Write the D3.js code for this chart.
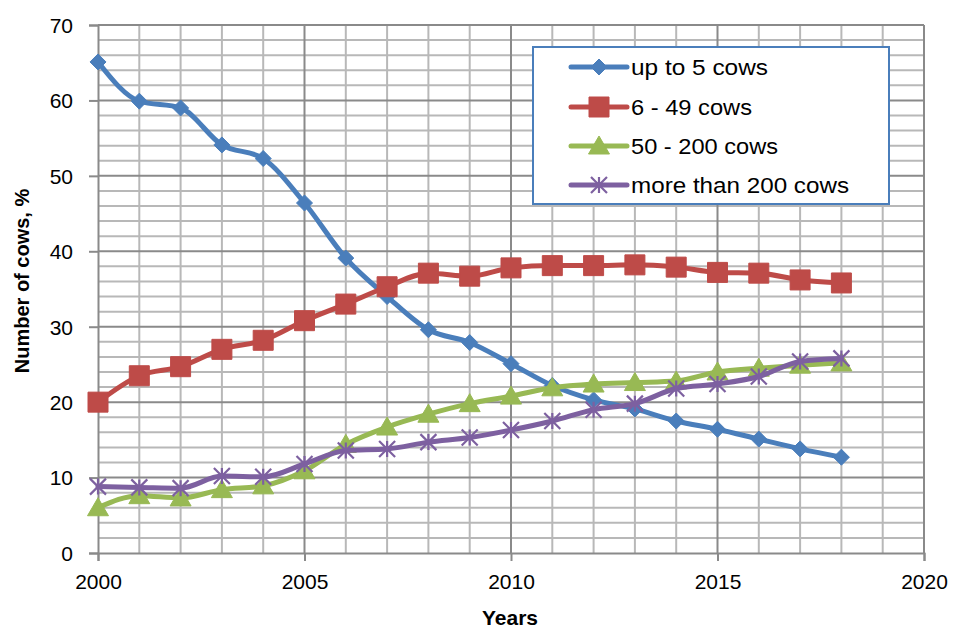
<!DOCTYPE html>
<html>
<head>
<meta charset="utf-8">
<script src="https://cdn.jsdelivr.net/npm/d3@7/dist/d3.min.js"></script>
<style>
  html, body { margin: 0; padding: 0; background: #fff; }
  svg { display: block; font-family: "Liberation Sans", Arial, sans-serif; }
</style>
</head>
<body>
<svg id="chart" width="953" height="633"></svg>
<script>
// Share of cows by herd size, 2000–2018
const years = [2000, 2001, 2002, 2003, 2004, 2005, 2006, 2007, 2008, 2009,
               2010, 2011, 2012, 2013, 2014, 2015, 2016, 2017, 2018];

const upTo5 = [65.1, 59.9, 59.0, 54.1, 52.3, 46.4, 39.1, 34.0, 29.6, 27.9,
               25.1, 22.2, 20.3, 19.1, 17.5, 16.4, 15.1, 13.8, 12.7];
const from6to49 = [20.0, 23.5, 24.7, 27.0, 28.2, 30.8, 33.0, 35.3, 37.1, 36.7,
                   37.8, 38.1, 38.1, 38.2, 37.9, 37.2, 37.1, 36.2, 35.8];
const from50to200 = [6.0, 7.6, 7.3, 8.4, 8.9, 10.9, 14.4, 16.7, 18.4, 19.8,
                     20.8, 21.9, 22.4, 22.6, 22.8, 24.0, 24.5, 24.9, 25.2];
const over200 = [8.8, 8.7, 8.6, 10.2, 10.1, 11.8, 13.6, 13.8, 14.7, 15.3,
                 16.3, 17.5, 19.0, 19.8, 21.8, 22.4, 23.4, 25.4, 25.8];

const seriesNames = ["up to 5 cows", "6 - 49 cows", "50 - 200 cows", "more than 200 cows"];
const seriesColors = ["#4a7ebb", "#be4b48", "#98b954", "#7d60a0"];
const seriesMarkers = ["diamond", "square", "triangle", "star"];

const xTicks = [2000, 2005, 2010, 2015, 2020];
const yTicks = [0, 10, 20, 30, 40, 50, 60, 70];

const series = [upTo5, from6to49, from50to200, over200].map((vals, i) => ({
  name: seriesNames[i], color: seriesColors[i], marker: seriesMarkers[i],
  points: years.map((yr, j) => ({ year: yr, value: vals[j] }))
}));

const svg = d3.select("#chart");
const plot = { left: 98, right: 924, top: 25, bottom: 553 };

const x = d3.scaleLinear().domain([2000, 2020]).range([plot.left, plot.right]);
const y = d3.scaleLinear().domain([0, 70]).range([plot.bottom, plot.top]);

// Grid: minor lines every year / every 2 %, major lines every 5 years / 10 %
const grid = svg.append("g");
const minorX = d3.range(2001, 2020).filter(v => v % 5 !== 0);
const minorY = d3.range(2, 70, 2).filter(v => v % 10 !== 0);
grid.selectAll(".mx").data(minorX).join("line")
  .attr("x1", d => x(d)).attr("x2", d => x(d))
  .attr("y1", plot.top).attr("y2", plot.bottom)
  .attr("stroke", "#b8b8b8").attr("stroke-width", 2);
grid.selectAll(".my").data(minorY).join("line")
  .attr("x1", plot.left).attr("x2", plot.right)
  .attr("y1", d => y(d)).attr("y2", d => y(d))
  .attr("stroke", "#b8b8b8").attr("stroke-width", 2);
grid.selectAll(".Mx").data(xTicks.slice(1)).join("line")
  .attr("x1", d => x(d)).attr("x2", d => x(d))
  .attr("y1", plot.top).attr("y2", plot.bottom)
  .attr("stroke", "#8a8a8a").attr("stroke-width", 2);
grid.selectAll(".My").data(yTicks.slice(1)).join("line")
  .attr("x1", plot.left).attr("x2", plot.right)
  .attr("y1", d => y(d)).attr("y2", d => y(d))
  .attr("stroke", "#8a8a8a").attr("stroke-width", 2);

// Axes
const xAxis = d3.axisBottom(x).tickValues(xTicks).tickFormat(d3.format("d"))
  .tickSize(8).tickPadding(13);
const yAxis = d3.axisLeft(y).tickValues(yTicks).tickSize(9).tickPadding(16);

const gx = svg.append("g").attr("transform", `translate(0,${plot.bottom})`).call(xAxis);
const gy = svg.append("g").attr("transform", `translate(${plot.left},0)`).call(yAxis);
[gx, gy].forEach(g => {
  g.select(".domain").attr("stroke", "#8a8a8a").attr("stroke-width", 2);
  g.selectAll(".tick line").attr("stroke", "#8a8a8a").attr("stroke-width", 2);
  g.selectAll(".tick text").attr("fill", "#000").style("font-size", "21px")
    .style("font-family", "'Liberation Sans', Arial, sans-serif");
});
gy.selectAll(".tick text").attr("dy", "0.35em");

svg.append("text")
  .attr("x", (plot.left + plot.right) / 2 - 1).attr("y", 625)
  .attr("text-anchor", "middle").attr("font-weight", "bold").attr("font-size", 21)
  .text("Years");
svg.append("text")
  .attr("transform", "translate(29,281) rotate(-90)")
  .attr("text-anchor", "middle").attr("font-weight", "bold").attr("font-size", 20)
  .text("Number of cows, %");

// Marker shapes
function markerPath(type) {
  switch (type) {
    case "diamond": { const r = 8;
      return `M0,${-r}L${r},0L0,${r}L${-r},0Z`; }
    case "square": { const s = 10;
      return `M${-s},${-s}H${s}V${s}H${-s}Z`; }
    case "triangle":
      return "M0,-10L10.5,8L-10.5,8Z";
    case "star": { const r = 8;
      return `M${-r},${-r}L${r},${r}M${r},${-r}L${-r},${r}M0,${-r}V${r}`; }
  }
}
function drawMarker(sel, s) {
  if (s.marker === "star") {
    sel.attr("d", markerPath(s.marker)).attr("fill", "none")
      .attr("stroke", s.color).attr("stroke-width", 2.2);
  } else {
    sel.attr("d", markerPath(s.marker)).attr("fill", s.color)
      .attr("stroke", s.color).attr("stroke-width", 1);
  }
}

const line = d3.line().x(d => x(d.year)).y(d => y(d.value)).curve(d3.curveMonotoneX);

series.forEach(s => {
  const g = svg.append("g");
  g.append("path").datum(s.points).attr("d", line)
    .attr("fill", "none").attr("stroke", s.color).attr("stroke-width", 5)
    .attr("stroke-linejoin", "round").attr("stroke-linecap", "round");
  g.selectAll("path.m").data(s.points).join("path").attr("class", "m")
    .attr("transform", d => `translate(${x(d.year)},${y(d.value)})`)
    .call(sel => drawMarker(sel, s));
});

// Legend
const legend = svg.append("g");
legend.append("rect").attr("x", 533).attr("y", 47).attr("width", 356).attr("height", 157)
  .attr("fill", "#fff").attr("stroke", "#4a7ebb").attr("stroke-width", 2);
const rowY = [67, 107, 146, 185];
const labelWidths = [137, 121, 147, 218];
series.forEach((s, i) => {
  const row = legend.append("g").attr("transform", `translate(0,${rowY[i]})`);
  row.append("line").attr("x1", 571).attr("x2", 627).attr("y1", 0).attr("y2", 0)
    .attr("stroke", s.color).attr("stroke-width", 5).attr("stroke-linecap", "round");
  row.append("path").attr("transform", "translate(599,0)").call(sel => drawMarker(sel, s));
  row.append("text").attr("x", 631).attr("y", 0).attr("dy", "0.35em")
    .attr("font-size", 22).attr("fill", "#000")
    .attr("textLength", labelWidths[i]).attr("lengthAdjust", "spacingAndGlyphs")
    .text(s.name);
});
</script>
</body>
</html>
